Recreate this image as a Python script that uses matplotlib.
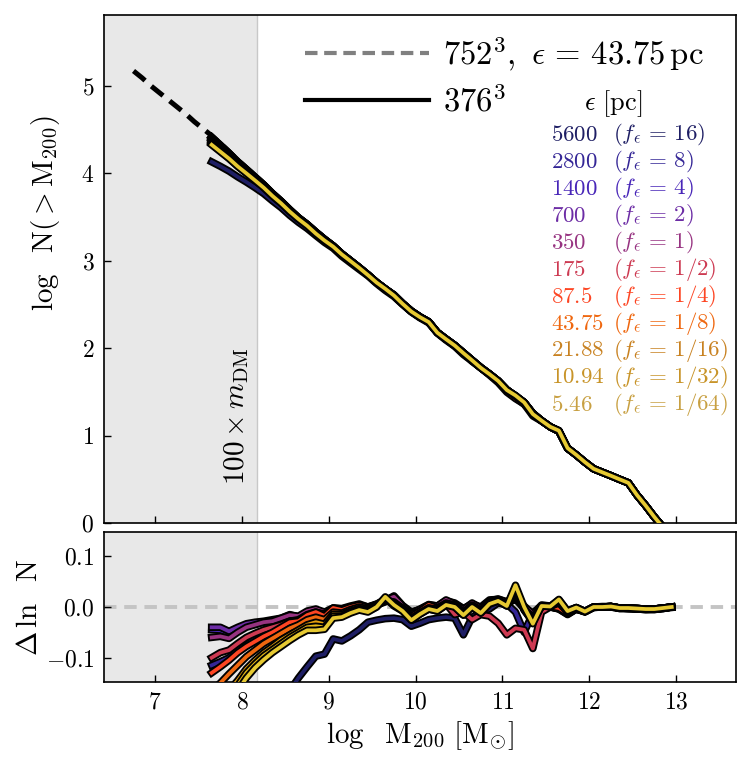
import numpy as np
import matplotlib
matplotlib.use("Agg")
import matplotlib.pyplot as plt
import matplotlib.patheffects as pe
from matplotlib.ticker import FixedLocator, FuncFormatter

plt.rcParams['font.family'] = 'serif'
plt.rcParams['font.serif'] = ['cmr10', 'DejaVu Serif']
plt.rcParams['mathtext.fontset'] = 'cm'
plt.rcParams['axes.unicode_minus'] = False

# ---------------- data ----------------
# reference run (752^3, eps=43.75 pc): log N(>M200) on 0.1 dex grid from 6.75 to 12.95
ref_logm = [6.75, 6.85, 6.95, 7.05, 7.15, 7.25, 7.35, 7.45, 7.55,
            7.65, 7.75, 7.85, 7.95, 8.05, 8.15, 8.25, 8.35, 8.45, 8.55, 8.65,
            8.75, 8.85, 8.95, 9.05, 9.15, 9.25, 9.35, 9.45, 9.55, 9.65,
            9.75, 9.85, 9.95, 10.05, 10.15, 10.25, 10.35, 10.45, 10.55, 10.65,
            10.75, 10.85, 10.95, 11.05, 11.15, 11.25, 11.35, 11.45, 11.55,
            11.65, 11.75, 11.85, 11.95, 12.05, 12.15, 12.25, 12.35, 12.45,
            12.55, 12.65, 12.75, 12.85, 12.95]
ref_logN = [5.17, 5.09, 5.00, 4.92, 4.84, 4.76, 4.68, 4.59, 4.51,
            4.43, 4.34, 4.25, 4.15, 4.06, 3.97, 3.88, 3.78, 3.69, 3.59, 3.50,
            3.42, 3.33, 3.25, 3.17, 3.08, 3.00, 2.92, 2.84, 2.75, 2.67,
            2.60, 2.51, 2.43, 2.36, 2.30, 2.18, 2.10, 2.03, 1.95, 1.86,
            1.78, 1.70, 1.62, 1.52, 1.44, 1.38, 1.26, 1.17, 1.10,
            1.05, 0.86, 0.78, 0.70, 0.62, 0.58, 0.54, 0.50, 0.46,
            0.32, 0.20, 0.07, -0.05, -0.17]

# low-resolution runs (376^3): grid from 7.65 to 12.95
low_logm = ref_logm[9:]

eps_labels = ['5600', '2800', '1400', '700', '350', '175', '87.5', '43.75', '21.88', '10.94', '5.46']
f_labels = ['16', '8', '4', '2', '1', '1/2', '1/4', '1/8', '1/16', '1/32', '1/64']

# Delta ln N relative to the reference run
d_5600 = [-0.690, -0.600, -0.520, -0.440, -0.370, -0.310, -0.260, -0.220, -0.190, -0.165,
          -0.140, -0.118, -0.097, -0.093, -0.063, -0.067, -0.057, -0.045, -0.030,
          -0.026, -0.023, -0.022, -0.025, -0.038, -0.032, -0.025, -0.022, -0.020, -0.022,
          -0.055, -0.020, -0.010, -0.004, 0.008, 0.004, 0.020, -0.004, -0.020, 0.000,
          0.000, -0.003, -0.012, -0.004, -0.009, 0.000, 0.000, 0.001, -0.002, -0.003,
          -0.004, -0.005, -0.005, -0.003, 0.000]
d_2800 = [-0.115, -0.108, -0.100, -0.085, -0.075, -0.062, -0.055, -0.046, -0.040, -0.030,
          -0.028, -0.018, -0.012, -0.016, -0.006, -0.008, -0.003, 0.002, -0.002,
          0.003, 0.012, 0.015, 0.000, -0.015, -0.008, 0.002, -0.002, 0.008, 0.004,
          -0.008, 0.004, -0.004, 0.010, 0.012, 0.006, -0.010, -0.050, -0.012, 0.000,
          0.000, -0.004, -0.015, -0.004, -0.010, -0.001, 0.000, 0.000, -0.003, -0.003,
          -0.004, -0.005, -0.005, -0.003, -0.001]
d_1400 = [-0.045, -0.046, -0.052, -0.045, -0.038, -0.034, -0.030, -0.027, -0.024, -0.018,
          -0.021, -0.012, -0.008, -0.013, -0.004, -0.005, -0.002, 0.002, -0.001,
          0.004, 0.010, 0.018, 0.001, -0.012, -0.006, 0.003, 0.000, 0.010, 0.006,
          -0.004, 0.005, -0.002, 0.012, 0.013, 0.007, 0.015, -0.002, -0.012, 0.002,
          0.001, -0.004, -0.014, -0.004, -0.009, -0.001, 0.000, 0.000, -0.003, -0.003,
          -0.004, -0.005, -0.004, -0.003, 0.000]
d_700 = [-0.040, -0.040, -0.048, -0.040, -0.033, -0.030, -0.028, -0.025, -0.022, -0.015,
         -0.020, -0.010, -0.005, -0.012, -0.002, -0.004, 0.000, 0.004, 0.000,
         0.005, 0.012, 0.022, 0.003, -0.010, -0.005, 0.004, 0.002, 0.012, 0.008,
         -0.003, 0.006, 0.000, 0.014, 0.015, 0.010, 0.018, 0.000, -0.015, 0.003,
         0.002, -0.002, -0.012, -0.003, -0.008, 0.000, 0.001, 0.001, -0.002, -0.002,
         -0.003, -0.004, -0.004, -0.002, 0.000]
d_350 = [-0.060, -0.058, -0.062, -0.050, -0.040, -0.035, -0.030, -0.028, -0.022, -0.016,
         -0.018, -0.008, -0.004, -0.010, -0.002, -0.003, 0.002, 0.006, 0.000,
         0.006, 0.014, 0.020, 0.002, -0.012, -0.004, 0.005, 0.002, 0.014, 0.006,
         -0.005, 0.008, -0.002, 0.012, 0.016, 0.010, 0.020, 0.002, -0.014, 0.004,
         0.002, -0.003, -0.013, -0.004, -0.009, 0.000, 0.000, 0.001, -0.002, -0.003,
         -0.003, -0.004, -0.004, -0.002, 0.000]
d_175 = [-0.100, -0.090, -0.085, -0.072, -0.060, -0.052, -0.045, -0.040, -0.035, -0.028,
         -0.025, -0.015, -0.010, -0.014, -0.004, -0.006, -0.001, 0.003, -0.002,
         0.004, 0.012, 0.010, -0.003, -0.014, -0.008, 0.001, -0.004, 0.006, -0.015,
         -0.010, -0.025, -0.015, -0.018, -0.032, -0.055, -0.042, -0.045, -0.082, -0.010,
         0.000, -0.003, -0.012, -0.004, -0.009, 0.000, 0.000, 0.001, -0.002, -0.003,
         -0.003, -0.004, -0.004, -0.002, 0.000]
d_87 = [-0.130, -0.118, -0.105, -0.090, -0.078, -0.068, -0.058, -0.050, -0.040, -0.030,
        -0.028, -0.016, -0.010, -0.018, -0.002, -0.006, 0.000, 0.004, -0.002,
        0.005, 0.014, 0.008, -0.002, -0.018, -0.008, 0.004, -0.002, 0.008, 0.004,
        -0.010, 0.004, -0.006, 0.010, 0.012, 0.006, 0.022, -0.004, -0.020, 0.002,
        0.001, -0.002, -0.012, -0.003, -0.009, 0.000, 0.000, 0.001, -0.002, -0.002,
        -0.003, -0.004, -0.004, -0.002, 0.000]
d_43 = [-0.165, -0.150, -0.132, -0.115, -0.098, -0.085, -0.072, -0.062, -0.052, -0.042,
        -0.035, -0.025, -0.020, -0.025, -0.010, -0.012, -0.005, 0.000, -0.004,
        0.004, 0.016, 0.006, -0.004, -0.022, -0.012, -0.002, -0.004, 0.006, 0.002,
        -0.014, 0.002, -0.008, 0.008, 0.012, 0.004, 0.028, -0.004, -0.024, 0.002,
        0.001, 0.008, -0.010, -0.002, -0.009, 0.000, 0.000, 0.001, -0.002, -0.002,
        -0.003, -0.004, -0.004, -0.002, 0.000]
d_21 = [-0.200, -0.185, -0.165, -0.145, -0.122, -0.105, -0.090, -0.078, -0.065, -0.055,
        -0.045, -0.035, -0.030, -0.034, -0.014, -0.015, -0.008, -0.003, -0.006,
        0.002, 0.018, 0.004, -0.006, -0.024, -0.012, -0.002, -0.006, 0.004, 0.002,
        -0.014, 0.002, -0.010, 0.008, 0.014, 0.004, 0.034, -0.006, -0.028, 0.002,
        0.001, 0.012, -0.009, -0.001, -0.009, 0.000, 0.000, 0.001, -0.002, -0.002,
        -0.003, -0.004, -0.004, -0.002, 0.000]
d_10 = [-0.220, -0.200, -0.178, -0.155, -0.130, -0.112, -0.096, -0.084, -0.072, -0.060,
        -0.050, -0.040, -0.038, -0.040, -0.018, -0.018, -0.010, -0.005, -0.008,
        0.000, 0.018, 0.002, -0.008, -0.026, -0.014, -0.004, -0.008, 0.004, 0.000,
        -0.016, 0.000, -0.012, 0.006, 0.012, 0.002, 0.038, -0.006, -0.030, 0.002,
        0.001, 0.014, -0.008, -0.001, -0.009, 0.000, 0.000, 0.001, -0.002, -0.002,
        -0.003, -0.004, -0.004, -0.002, 0.000]
d_5 = [-0.240, -0.215, -0.190, -0.165, -0.140, -0.120, -0.104, -0.090, -0.078, -0.066,
       -0.055, -0.046, -0.046, -0.044, -0.022, -0.020, -0.012, -0.006, -0.010,
       0.000, 0.020, 0.004, -0.008, -0.026, -0.014, -0.004, -0.008, 0.004, 0.000,
       -0.016, 0.000, -0.012, 0.006, 0.012, 0.002, 0.043, 0.000, -0.033, 0.002,
       0.001, 0.015, -0.008, -0.001, -0.009, 0.000, 0.000, 0.001, -0.002, -0.002,
       -0.003, -0.004, -0.004, -0.002, 0.000]

residuals = [d_5600, d_2800, d_1400, d_700, d_350, d_175, d_87, d_43, d_21, d_10, d_5]

mdm100 = 8.17  # log of 100 x particle mass

# ---------------- figure ----------------
W, H = 749, 763
fig = plt.figure(figsize=(W / 100, H / 100), dpi=100)

def frac(x0, y0, x1, y1):
    return [x0 / W, 1 - y1 / H, (x1 - x0) / W, (y1 - y0) / H]

ax1 = fig.add_axes(frac(104, 15, 736, 523))
ax2 = fig.add_axes(frac(104, 532, 736, 682), sharex=ax1)

cmap = plt.get_cmap('CMRmap')
cpos = [0.10, 0.168, 0.236, 0.304, 0.372, 0.44, 0.508, 0.576, 0.69, 0.735, 0.78]
colors = [cmap(t) for t in cpos]
text_colors = []
for k, c in enumerate(colors):
    if k >= 8:
        text_colors.append((c[0] * 0.87, c[1] * 0.8, c[2] * 0.9 + 0.08))
    else:
        text_colors.append(c)

stroke = [pe.Stroke(linewidth=5.4, foreground='black'), pe.Normal()]

for ax in (ax1, ax2):
    ax.axvspan(6.0, mdm100, color='#e8e8e8', zorder=0, lw=0)
    ax.axvline(mdm100, color='#c8c8c8', lw=1.0, zorder=0.5)

# top panel
ax1.plot(ref_logm, ref_logN, color='black', lw=3.6, ls=(0, (3.0, 1.7)), zorder=2)
ref_low = np.array(ref_logN[9:])
for d, c in zip(residuals, colors):
    y = ref_low + np.array(d) / np.log(10)
    ax1.plot(low_logm, y, color=c, lw=2.7, path_effects=stroke, zorder=3)

# legend proxies
h1, = ax1.plot([], [], color='#808080', lw=3.0, ls=(0, (3.0, 1.6)))
h2, = ax1.plot([], [], color='black', lw=3.0)
ax1.legend([h1, h2], [r'$752^3,\ \epsilon\,=\,43.75\,\mathrm{pc}$', r'$376^3$'],
           loc='upper left', bbox_to_anchor=(0.297, 0.988), frameon=False,
           fontsize=23.5, handlelength=3.8, handletextpad=0.45, labelspacing=0.36,
           borderaxespad=0.0)

# epsilon list
ax1.text(0.806, 0.826, r'$\epsilon\ [\mathrm{pc}]$', transform=ax1.transAxes,
         ha='center', va='center', fontsize=19)
for k, (e, f, c) in enumerate(zip(eps_labels, f_labels, text_colors)):
    yy = 0.764 - k * 0.0531
    ax1.text(0.707, yy, r'$%s$' % e, transform=ax1.transAxes, color=c,
             ha='left', va='center', fontsize=16.5)
    ax1.text(0.805, yy, r'$(f_\epsilon\,=\,%s)$' % f, transform=ax1.transAxes, color=c,
             ha='left', va='center', fontsize=16.5)

ax1.text(mdm100 - 0.07, 0.44, r'$100\times m_{\rm DM}$', rotation=90,
         ha='right', va='bottom', fontsize=21)

ax1.set_xlim(6.41, 13.69)
ax1.set_ylim(0, 5.81)
ax1.yaxis.set_major_locator(FixedLocator([0, 1, 2, 3, 4, 5]))
ax1.set_ylabel(r'$\log\ \ \mathrm{N}(>\mathrm{M}_{200})$', fontsize=21)
ax1.yaxis.set_label_coords(-0.066, 0.61)
ax1.tick_params(labelbottom=False)

# bottom panel
ax2.axhline(0, color='#c4c4c4', lw=2.8, ls=(0, (3.2, 2.0)), zorder=1)
for d, c in zip(residuals, colors):
    ax2.plot(low_logm, d, color=c, lw=2.7, path_effects=stroke, zorder=3)
ax2.set_ylim(-0.148, 0.148)
ax2.yaxis.set_major_locator(FixedLocator([-0.1, 0.0, 0.1]))
ax2.yaxis.set_major_formatter(FuncFormatter(lambda v, p: r'$%.1f$' % v))
ax2.xaxis.set_major_locator(FixedLocator([7, 8, 9, 10, 11, 12, 13]))
ax2.xaxis.set_major_formatter(FuncFormatter(lambda v, p: r'$%d$' % v))
ax1.yaxis.set_major_formatter(FuncFormatter(lambda v, p: r'$%d$' % v))
ax2.set_ylabel(r'$\Delta\,\ln\ \ \mathrm{N}$', fontsize=21, labelpad=2)
ax2.set_xlabel(r'$\log\ \ \mathrm{M}_{200}\ [\mathrm{M}_{\odot}]$', fontsize=21, labelpad=4)

for ax in (ax1, ax2):
    ax.tick_params(direction='in', length=5, width=1.0, labelsize=17,
                   top=False, right=False, pad=7)
    for s in ax.spines.values():
        s.set_linewidth(1.2)

fig.savefig('out.png', dpi=100)
